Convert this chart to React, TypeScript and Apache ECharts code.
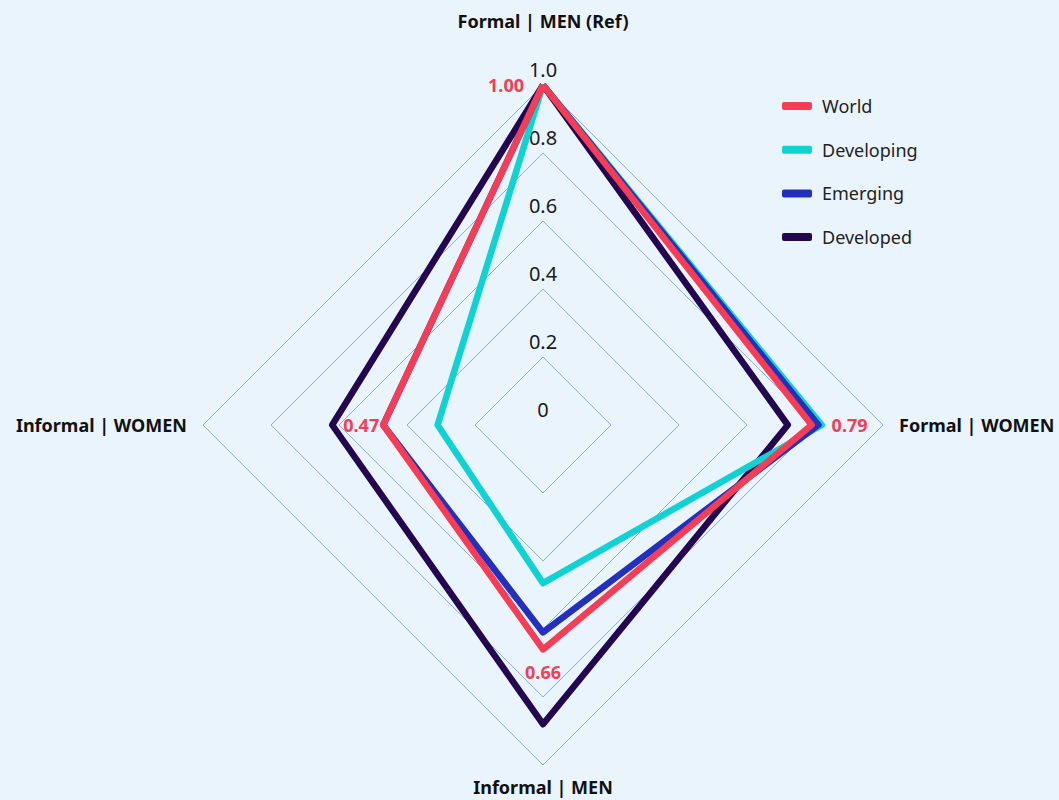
import React, { useEffect, useRef } from "react";
import * as echarts from "echarts";

const indicatorNames = ["Formal | MEN (Ref)", "Informal | WOMEN", "Informal | MEN", "Formal | WOMEN"];
const seriesNames = ["World", "Developing", "Emerging", "Developed"];
const world = [1.0, 0.47, 0.66, 0.79];
const developing = [1.0, 0.31, 0.465, 0.82];
const emerging = [1.0, 0.47, 0.61, 0.81];
const developed = [1.0, 0.62, 0.88, 0.72];
const colors: Record<string, string> = {
  World: "#f53d55",
  Developing: "#10d2d2",
  Emerging: "#2230bd",
  Developed: "#23064f",
};
// label placement for each World vertex (index into world)
const worldLabels = [
  { dim: 0, position: "left", distance: 19 },
  { dim: 1, position: "left", distance: 4 },
  { dim: 2, position: "bottom", distance: 14 },
  { dim: 3, position: "right", distance: 20 },
];

const FONT = "'Noto Sans', sans-serif";

export default function App() {
  const ref = useRef<HTMLDivElement>(null);
  useEffect(() => {
    document.body.style.margin = "0";
    const chart = echarts.init(ref.current!, null, { renderer: "svg" });
    const lineSeries = (name: string, values: number[], z: number) => ({
      type: "radar",
      name,
      z,
      symbol: "circle",
      symbolSize: 0,
      lineStyle: { width: 6.5, color: colors[name], join: "round" },
      itemStyle: { color: colors[name] },
      data: [{ value: values, name }],
    });
    const worldSeries: any = lineSeries("World", world, 5);
    worldSeries.label = {
      show: false,
      color: colors.World,
      fontFamily: FONT,
      fontWeight: "bold",
      fontSize: 18,
    };
    worldLabels.forEach((l) => {
      worldSeries.data.push({
        value: world,
        name: "World",
        lineStyle: { opacity: 0 },
        label: {
          show: true,
          position: l.position,
          distance: l.distance,
          color: colors.World,
          fontFamily: FONT,
          fontWeight: "bold",
          fontSize: 18,
          formatter: (p: any) => (p.value === world[l.dim] ? Number(p.value).toFixed(2) : ""),
        },
      });
    });
    chart.setOption({
      animation: false,
      backgroundColor: "#eaf4fd",
      textStyle: { fontFamily: FONT },
      legend: {
        data: seriesNames,
        orient: "vertical",
        left: 777,
        top: 90,
        icon: "roundRect",
        itemWidth: 30,
        itemHeight: 8,
        itemGap: 21.7,
        textStyle: { fontSize: 18, color: "#222", fontFamily: FONT, lineHeight: 22, padding: [0, 0, 0, 5] },
      },
      radar: {
        center: [543, 425],
        radius: 340,
        shape: "polygon",
        startAngle: 90,
        splitNumber: 5,
        nameGap: 16,
        axisName: { color: "#111", fontWeight: "bold", fontSize: 18, fontFamily: FONT },
        axisLine: { show: false },
        axisTick: { show: false },
        splitArea: { show: false },
        splitLine: { lineStyle: { color: "#88afdd", width: 1 } },
        axisLabel: { show: false },
        indicator: indicatorNames.map((n, i) => {
          const ind: any = { name: n, min: 0, max: 1 };
          if (i === 2) ind.nameGap = 13;
          if (i === 0) {
            ind.nameGap = 55;
            ind.axisLabel = {
              show: true,
              showMinLabel: true,
              showMaxLabel: true,
              margin: 0,
              align: "center",
              verticalAlign: "bottom",
              padding: [0, 0, 6, 0],
              fontSize: 20,
              color: "#1a1a1a",
              fontFamily: FONT,
              formatter: (v: number) => (v === 0 ? "0" : v.toFixed(1)),
            };
          }
          return ind;
        }),
      },
      series: [
        lineSeries("Developed", developed, 2),
        lineSeries("Developing", developing, 3),
        lineSeries("Emerging", emerging, 4),
        worldSeries,
      ],
    });
    return () => chart.dispose();
  }, []);
  return <div ref={ref} style={{ position: "fixed", left: 0, top: 0, width: 1059, height: 800 }} />;
}
